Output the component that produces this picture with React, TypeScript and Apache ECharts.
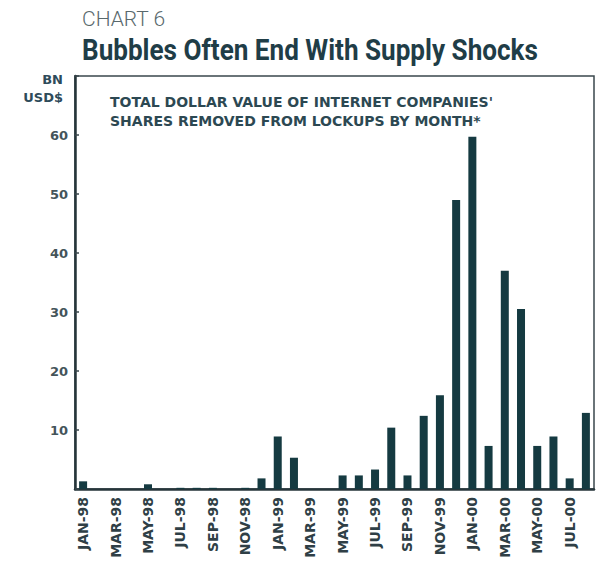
import React, { useEffect, useRef } from "react";
import * as echarts from "echarts";

const months: string[] = [
  "JAN-98", "FEB-98", "MAR-98", "APR-98", "MAY-98", "JUN-98", "JUL-98", "AUG-98",
  "SEP-98", "OCT-98", "NOV-98", "DEC-98", "JAN-99", "FEB-99", "MAR-99", "APR-99",
  "MAY-99", "JUN-99", "JUL-99", "AUG-99", "SEP-99", "OCT-99", "NOV-99", "DEC-99",
  "JAN-00", "FEB-00", "MAR-00", "APR-00", "MAY-00", "JUN-00", "JUL-00", "AUG-00",
];

const lockupValues: number[] = [
  1.3, 0, 0, 0, 0.8, 0, 0.2, 0.2,
  0.2, 0, 0.2, 1.8, 8.9, 5.3, 0, 0,
  2.3, 2.3, 3.3, 10.4, 2.3, 12.4, 15.9, 49.0,
  59.7, 7.3, 37.0, 30.5, 7.3, 8.9, 1.8, 12.9,
];

const yMin = 0;
const yMax = 70;
const yInterval = 10;

const chartLabel = "CHART 6";
const chartTitle = "Bubbles Often End With Supply Shocks";
const unitLines = ["BN", "USD$"];
const innerTitle = "TOTAL DOLLAR VALUE OF INTERNET COMPANIES'\nSHARES REMOVED FROM LOCKUPS BY MONTH*";

export default function App() {
  const ref = useRef<HTMLDivElement>(null);

  useEffect(() => {
    if (!ref.current) return;
    const chart = echarts.init(ref.current, undefined, { renderer: "svg" });
    const bold = "DejaVu Sans";
    chart.setOption({
      animation: false,
      backgroundColor: "#ffffff",
      grid: {
        left: 75,
        right: 6,
        top: 76,
        bottom: 82,
        show: true,
        borderColor: "#3a474c",
        borderWidth: 1.5,
      },
      xAxis: [
        {
          type: "category",
          data: months,
          axisLine: { show: true, onZero: false, lineStyle: { color: "#26353a", width: 2.5 } },
          axisTick: { show: false },
          axisLabel: {
            interval: 1,
            rotate: 90,
            margin: 8,
            fontFamily: bold,
            fontWeight: "bold",
            fontSize: 14,
            color: "#2f3f46",
          },
          splitLine: { show: false },
        },
      ],
      yAxis: [
        {
          type: "value",
          min: yMin,
          max: yMax,
          interval: yInterval,
          axisLine: { show: true, onZero: false, lineStyle: { color: "#26353a", width: 2.5 } },
          axisTick: { show: true, inside: true, length: 4, lineStyle: { color: "#3a474c", width: 1.5 } },
          axisLabel: {
            margin: 7,
            fontFamily: bold,
            fontWeight: "bold",
            fontSize: 13,
            color: "#44545a",
            formatter: (v: number) => (v === yMin || v === yMax ? "" : String(v)),
          },
          splitLine: { show: false },
        },
      ],
      series: [
        {
          type: "bar",
          data: lockupValues,
          barWidth: 8,
          itemStyle: { color: "#153a41" },
        },
      ],
      graphic: [
        {
          type: "text",
          left: 82,
          top: 8,
          style: {
            text: chartLabel,
            font: "300 21px Roboto",
            fill: "#58686c",
          },
        },
        {
          type: "text",
          x: 82,
          y: 35,
          scaleX: 0.87,
          style: {
            text: chartTitle,
            font: "bold 30px Roboto",
            fill: "#1f3d47",
          },
        },
        {
          type: "text",
          x: 63,
          y: 70,
          style: {
            text: unitLines.join("\n"),
            font: "bold 13px 'DejaVu Sans'",
            fill: "#2e4b5a",
            align: "right",
            lineHeight: 18,
          },
        },
        {
          type: "text",
          x: 110,
          y: 92,
          style: {
            text: innerTitle,
            font: "bold 14px 'DejaVu Sans'",
            fill: "#2c4852",
            lineHeight: 19,
          },
        },
      ],
    });
    return () => chart.dispose();
  }, []);

  return (
    <div
      ref={ref}
      style={{ position: "fixed", left: 0, top: 0, width: 600, height: 571 }}
    />
  );
}
